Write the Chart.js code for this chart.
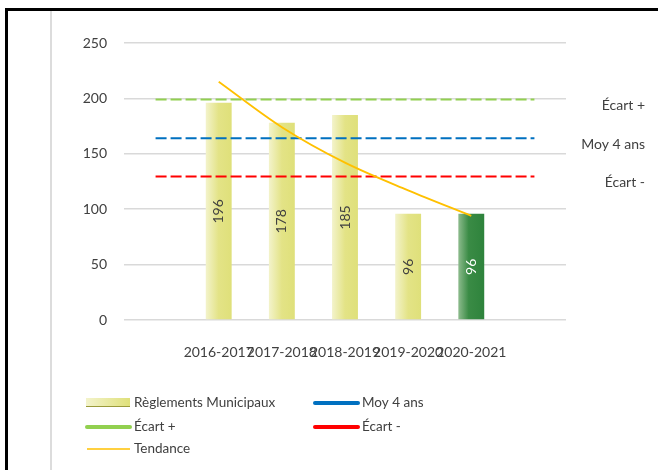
<!DOCTYPE html>
<html lang="fr">
<head>
    <meta charset="UTF-8">
    <title>Règlements Municipaux</title>
    <script src="https://cdn.jsdelivr.net/npm/chart.js"></script>
    <style>
        html, body { margin: 0; padding: 0; background: #fff; }
        #wrap { position: relative; width: 658px; height: 470px; overflow: hidden; }
        #frame { position: absolute; left: 5px; top: 8px; right: -10px; bottom: -10px;
                 border-left: 3px solid #000; border-top: 3px solid #000; }
        #sep { position: absolute; left: 50px; top: 11px; bottom: 0; width: 2px; background: #dcdcdc; }
        canvas { position: absolute; left: 0; top: 0; }
    </style>
</head>
<body>
<div id="wrap">
    <div id="frame"></div>
    <div id="sep"></div>
    <canvas id="chart" width="658" height="470"></canvas>
</div>

<script>
    // données
    const categories = ['', '2016-2017', '2017-2018', '2018-2019', '2019-2020', '2020-2021', ''];
    const reglements = [null, 196, 178, 185, 96, 96, null];
    const moy4ans = [164, 164, 164, 164, 164, 164, 164];
    const ecartPlus = [199, 199, 199, 199, 199, 199, 199];
    const ecartMoins = [129.5, 129.5, 129.5, 129.5, 129.5, 129.5, 129.5];
    const tendance = [null, 215, 174, 142, 117, 94, null];
    const yTicks = [0, 50, 100, 150, 200, 250];

    const FONT = 'Lato, "Open Sans", sans-serif';
    const TXT = '#404040';

    // dégradé des barres (la dernière en vert)
    const barGradient = {
        id: 'barGradient',
        beforeDatasetsDraw(chart) {
            const ctx = chart.ctx;
            chart.getDatasetMeta(0).data.forEach((bar, i) => {
                if (reglements[i] == null) return;
                const x0 = bar.x - bar.width / 2, x1 = bar.x + bar.width / 2;
                const g = ctx.createLinearGradient(x0, 0, x1, 0);
                if (i === 5) {
                    g.addColorStop(0, '#8dbb8d');
                    g.addColorStop(0.4, '#3a8b45');
                    g.addColorStop(1, '#2e833c');
                } else {
                    g.addColorStop(0, '#f3f3cb');
                    g.addColorStop(0.5, '#e3e386');
                    g.addColorStop(1, '#dfe07a');
                }
                // options partagées entre barres -> copie par barre
                bar.options = Object.assign({}, bar.options, { backgroundColor: g });
            });
        }
    };

    // valeurs dans les barres, texte vertical
    const barValues = {
        id: 'barValues',
        afterDatasetsDraw(chart) {
            const ctx = chart.ctx;
            const y = chart.scales.y;
            chart.getDatasetMeta(0).data.forEach((bar, i) => {
                const v = reglements[i];
                if (v == null) return;
                const cy = (y.getPixelForValue(v) + y.getPixelForValue(0)) / 2;
                ctx.save();
                ctx.translate(bar.x, cy);
                ctx.rotate(-Math.PI / 2);
                ctx.font = '14px ' + FONT;
                ctx.fillStyle = i === 5 ? '#ffffff' : '#404040';
                ctx.textAlign = 'center';
                ctx.textBaseline = 'middle';
                ctx.fillText(String(v), 0, 0);
                ctx.restore();
            });
        }
    };

    // étiquettes à droite des lignes pointillées
    const sideLabels = {
        id: 'sideLabels',
        afterDraw(chart) {
            const ctx = chart.ctx;
            const y = chart.scales.y;
            const items = [
                ['Écart +', ecartPlus[6]],
                ['Moy 4 ans', moy4ans[6]],
                ['Écart -', ecartMoins[6]],
            ];
            ctx.save();
            ctx.font = '14px ' + FONT;
            ctx.fillStyle = TXT;
            ctx.textAlign = 'right';
            ctx.textBaseline = 'middle';
            items.forEach(([t, v]) => ctx.fillText(t, 645, y.getPixelForValue(v) + 6));
            ctx.restore();
        }
    };

    // légende en deux colonnes sous le graphique
    const bottomLegend = {
        id: 'bottomLegend',
        afterDraw(chart) {
            const ctx = chart.ctx;
            const cols = [86, 314];
            const rows = [403, 427, 449];
            ctx.save();
            ctx.font = '13.5px ' + FONT;
            ctx.textBaseline = 'middle';
            chart.data.datasets.forEach((ds, k) => {
                const x = cols[k % 2], yy = rows[Math.floor(k / 2)];
                if (ds.type === 'bar') {
                    const g = ctx.createLinearGradient(x, 0, x + 44, 0);
                    g.addColorStop(0, '#f3f3cb');
                    g.addColorStop(1, '#dfe07a');
                    ctx.fillStyle = g;
                    ctx.fillRect(x, yy - 5, 44, 9);
                    ctx.fillStyle = '#9a9a3a';
                    ctx.fillRect(x, yy + 3, 44, 1);
                } else {
                    ctx.strokeStyle = ds.borderColor;
                    ctx.lineWidth = ds.label === 'Tendance' ? 1.5 : 4;
                    ctx.lineCap = ds.label === 'Tendance' ? 'butt' : 'round';
                    ctx.beginPath();
                    ctx.moveTo(x + 1, yy);
                    ctx.lineTo(x + 44, yy);
                    ctx.stroke();
                }
                ctx.fillStyle = TXT;
                ctx.textAlign = 'left';
                ctx.fillText(ds.label, x + 48, yy);
            });
            ctx.restore();
        }
    };

    const dashed = [11, 4];

    new Chart(document.getElementById('chart'), {
        data: {
            labels: categories,
            datasets: [
                {
                    type: 'bar',
                    label: 'Règlements Municipaux',
                    data: reglements,
                    backgroundColor: '#e0e07c',
                    categoryPercentage: 1,
                    barPercentage: 0.41,
                    order: 10,
                },
                {
                    type: 'line',
                    label: 'Moy 4 ans',
                    data: moy4ans,
                    borderColor: '#0070c0',
                    borderWidth: 2,
                    borderDash: dashed,
                    pointRadius: 0,
                    order: 3,
                },
                {
                    type: 'line',
                    label: 'Écart +',
                    data: ecartPlus,
                    borderColor: '#92d050',
                    borderWidth: 2,
                    borderDash: dashed,
                    pointRadius: 0,
                    order: 4,
                },
                {
                    type: 'line',
                    label: 'Écart -',
                    data: ecartMoins,
                    borderColor: '#ff0000',
                    borderWidth: 2,
                    borderDash: dashed,
                    pointRadius: 0,
                    order: 2,
                },
                {
                    type: 'line',
                    label: 'Tendance',
                    data: tendance,
                    borderColor: '#ffc000',
                    borderWidth: 1.8,
                    pointRadius: 0,
                    cubicInterpolationMode: 'monotone',
                    order: 1,
                },
            ]
        },
        options: {
            responsive: false,
            animation: false,
            events: [],
            layout: { padding: { left: 60, top: 43, right: 92, bottom: 110 } },
            plugins: {
                legend: { display: false },
                tooltip: { enabled: false },
            },
            scales: {
                x: {
                    offset: true,
                    grid: { display: false },
                    border: { display: false },
                    ticks: {
                        autoSkip: false,
                        maxRotation: 0,
                        minRotation: 0,
                        padding: 16,
                        color: TXT,
                        font: { family: FONT, size: 14 },
                    },
                    afterFit(s) { s.height = 40; },
                },
                y: {
                    min: 0,
                    max: 250,
                    afterBuildTicks(s) { s.ticks = yTicks.map(v => ({ value: v })); },
                    grid: { color: '#d9d9d9', lineWidth: 1.5, drawTicks: false },
                    border: { display: false },
                    ticks: {
                        padding: 17,
                        color: TXT,
                        font: { family: FONT, size: 14 },
                    },
                    afterFit(s) { s.width = 64; },
                },
            },
        },
        plugins: [barGradient, barValues, sideLabels, bottomLegend],
    });
</script>
</body>
</html>
